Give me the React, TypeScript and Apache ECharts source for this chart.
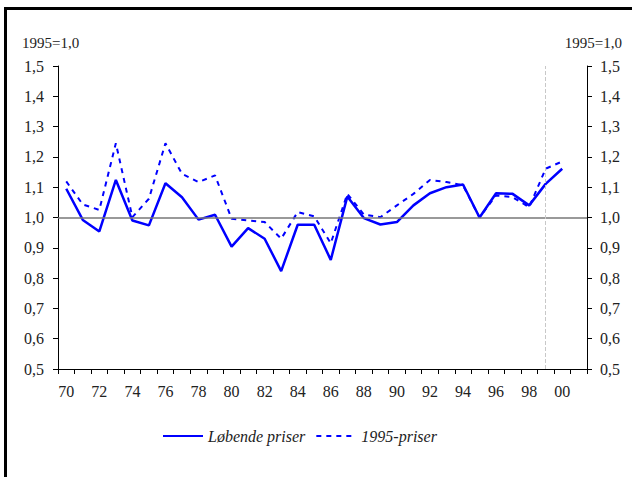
import React, { useEffect, useRef } from "react";
import * as echarts from "echarts";

const years: string[] = [];
for (let y = 1970; y <= 2001; y++) years.push(String(y));

const lobendePriser = [
  1.095, 0.992, 0.954, 1.124, 0.99, 0.974, 1.113, 1.067, 0.993, 1.009,
  0.904, 0.965, 0.93, 0.823, 0.976, 0.976, 0.86, 1.069, 0.998, 0.977,
  0.985, 1.04, 1.08, 1.1, 1.109, 1.0, 1.08, 1.078, 1.04, 1.111, 1.161,
];
const priser1995 = [
  1.119, 1.043, 1.025, 1.245, 1.001, 1.062, 1.245, 1.144, 1.117, 1.139,
  0.996, 0.99, 0.985, 0.93, 1.018, 1.004, 0.915, 1.078, 1.01, 1.001,
  1.04, 1.078, 1.124, 1.117, 1.106, 1.0, 1.073, 1.067, 1.034, 1.161, 1.185,
];
const seriesNames = ["Løbende priser", "1995-priser"];
const axisTitle = "1995=1,0";
const markYear = "1999";

const FONT = "Liberation Serif";

export default function App() {
  const ref = useRef<HTMLDivElement>(null);
  useEffect(() => {
    if (!ref.current) return;
    const chart = echarts.init(ref.current, null, { renderer: "svg" });
    const yLabel = (v: number) => v.toFixed(1).replace(".", ",");
    const yAxisCommon = {
      type: "value" as const,
      min: 0.5,
      max: 1.5,
      interval: 0.1,
      splitLine: { show: false },
      axisLine: { show: true, lineStyle: { color: "#000", width: 1 } },
      axisTick: { show: true, length: 5, lineStyle: { color: "#000" } },
    };
    const yLabelStyle = {
      formatter: yLabel,
      color: "#222",
      fontFamily: FONT,
      fontSize: 16,
      margin: 14,
    };
    chart.setOption({
      animation: false,
      backgroundColor: "#fff",
      grid: { left: 58, right: 45, top: 66, bottom: 108, containLabel: false },
      legend: {
        bottom: 28,
        left: 157,
        itemWidth: 40,
        itemHeight: 14,
        itemGap: 10,
        data: seriesNames,
        itemStyle: { opacity: 0 },
        textStyle: {
          fontFamily: FONT,
          fontStyle: "italic",
          fontSize: 16,
          color: "#222",
        },
      },
      xAxis: {
        type: "category",
        data: years,
        boundaryGap: true,
        axisLine: { lineStyle: { color: "#000", width: 1 } },
        axisTick: { show: true, interval: 0, length: 5, lineStyle: { color: "#000" } },
        axisLabel: {
          interval: 1,
          formatter: (v: string) => v.slice(2),
          color: "#222",
          fontFamily: FONT,
          fontSize: 16,
          margin: 14,
        },
      },
      yAxis: [
        { ...yAxisCommon, position: "left", axisLabel: yLabelStyle },
        { ...yAxisCommon, position: "right", axisLabel: { ...yLabelStyle, margin: 13 } },
      ],
      series: [
        {
          name: seriesNames[0],
          type: "line",
          data: lobendePriser,
          symbol: "none",
          lineStyle: { color: "#0000ff", width: 2.5, type: "solid" },
          itemStyle: { color: "#0000ff" },
          z: 3,
          markLine: {
            silent: true,
            symbol: "none",
            label: { show: false },
            data: [
              { yAxis: 1.0, lineStyle: { color: "#777", width: 1.5, type: "solid" } },
              { xAxis: markYear, lineStyle: { color: "#c8c8c8", width: 1, type: "dashed" } },
            ],
          },
        },
        {
          name: seriesNames[1],
          type: "line",
          data: priser1995,
          symbol: "none",
          lineStyle: { color: "#0000ff", width: 2, type: [5, 5] },
          itemStyle: { color: "#0000ff" },
          z: 2,
        },
      ],
      graphic: [
        {
          type: "text",
          left: 22,
          top: 35,
          style: { text: axisTitle, fontFamily: FONT, fontSize: 15, fill: "#222" },
        },
        {
          type: "text",
          right: 10,
          top: 35,
          style: { text: axisTitle, fontFamily: FONT, fontSize: 15, fill: "#222" },
        },
        {
          type: "line",
          shape: { x1: 5.5, y1: 7, x2: 5.5, y2: 477 },
          style: { stroke: "#000", lineWidth: 3 },
        },
        {
          type: "line",
          shape: { x1: 4, y1: 8.5, x2: 632, y2: 8.5 },
          style: { stroke: "#000", lineWidth: 3 },
        },
      ],
    });
    return () => chart.dispose();
  }, []);
  return (
    <div
      ref={ref}
      style={{ position: "fixed", left: 0, top: 0, width: 632, height: 477 }}
    />
  );
}
